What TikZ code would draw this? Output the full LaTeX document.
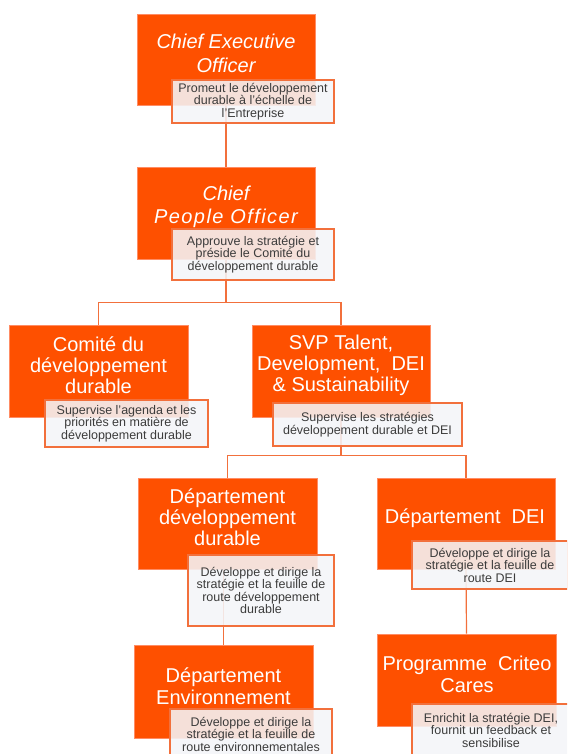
\documentclass[tikz,border=0pt]{standalone}
\usepackage{fontspec}
\setmainfont{Liberation Sans}
\usetikzlibrary{backgrounds}
\definecolor{corange}{RGB}{254,80,0}
\definecolor{cline}{RGB}{242,112,60}
\definecolor{csubfill}{RGB}{244,245,248}
\definecolor{csubtext}{RGB}{60,60,60}
\definecolor{cedge}{RGB}{255,140,100}
\begin{document}
\begin{tikzpicture}[x=1pt,y=-1pt,
 mainbox/.style={fill=corange,draw=cedge,line width=0.6pt,inner sep=0pt,minimum width=178pt,minimum height=92pt},
 title/.style={text=white,align=center,font=\fontsize{20}{22}\selectfont,inner sep=0pt},
 ititle/.style={title,font=\itshape\fontsize{20}{23}\selectfont},
 subbox/.style={fill=csubfill,fill opacity=0.88,text opacity=1,draw=cline,line width=1.2pt,inner sep=0pt,text=csubtext,align=center,font=\fontsize{12.5}{12.5}\selectfont},
 conn/.style={draw=cline,line width=1.2pt}]
\path[use as bounding box] (0,0) rectangle (567,754);
\clip (0,0) rectangle (567,754);

% CEO
\node[mainbox,minimum height=91pt] (ceo) at (226,59.5) {};
\node[ititle,font=\itshape\fontsize{20}{24}\selectfont] (ceot) at (226,53.5) {Chief Executive\\Officer};
\node[subbox,minimum width=162pt,minimum height=43pt] (ceos) at (253,101.5) {Promeut le développement\\durable à l’échelle de\\l’Entreprise};

% CPO
\node[mainbox] (cpo) at (226,213) {};
\node[ititle] (cpot) at (226,207) {Chief\\{\addfontfeature{LetterSpace=7}People Officer}};
\node[subbox,minimum width=162pt,minimum height=51pt] (cpos) at (253,254.5) {Approuve la stratégie et\\préside le Comité du\\développement durable};

% Comite
\node[mainbox,minimum width=179pt] (comite) at (98.5,371) {};
\node[title,font=\fontsize{20}{21}\selectfont] (comitet) at (98.5,365) {Comité du\\développement\\durable};
\node[subbox,minimum width=163pt,minimum height=47pt] (comites) at (126.5,423.5) {Supervise l’agenda et les\\priorités en matière de\\développement durable};

% SVP
\node[mainbox] (svp) at (341,371) {};
\node[title,font=\fontsize{20}{21}\selectfont] (svpt) at (341,365) {SVP Talent,\\Development,~ DEI\\\& Sustainability};
\node[subbox,minimum width=189pt,minimum height=43pt] (svps) at (367.5,424.5) {Supervise les stratégies\\développement durable et DEI};

% Departement developpement durable
\node[mainbox,minimum width=179pt,minimum height=91pt] (ddd) at (227.5,523.5) {};
\node[title,font=\fontsize{20}{21}\selectfont] (dddt) at (227.5,517.5) {Département\\développement\\durable};
\node[subbox,minimum width=146pt,minimum height=71pt] (ddds) at (261,590.5) {Développe et dirige la\\stratégie et la feuille de\\route développement\\durable};

% Departement DEI
\node[mainbox,minimum height=91pt] (dei) at (466,523.5) {};
\node[title] (deit) at (465,518) {Département~ DEI};
\node[subbox,minimum width=156pt,minimum height=48pt] (deis) at (490,565) {Développe et dirige la\\stratégie et la feuille de\\route DEI};

% Departement Environnement
\node[mainbox,minimum width=179pt,minimum height=93pt] (env) at (223.5,691.5) {};
\node[title] (envt) at (223.5,686) {Département\\Environnement};
\node[subbox,minimum width=162pt,minimum height=50pt] (envs) at (251,734) {Développe et dirige la\\stratégie et la feuille de\\route environnementales};

% Programme Criteo Cares
\node[mainbox,minimum width=179pt] (prog) at (466.5,680) {};
\node[title] (progt) at (467,674) {Programme~ Criteo\\Cares};
\node[subbox,minimum width=158pt,minimum height=52pt] (progs) at (491,730) {Enrichit la stratégie DEI,\\fournit un feedback et\\sensibilise};

\begin{scope}[on background layer]
\draw[conn] (ceo.south) -- (cpo.north);
\draw[conn] (cpo.south) -- ++(0,43) coordinate (j1);
\draw[conn] (comite.north) |- (j1) -| (svp.north);
\draw[conn] (svp.south) -- ++(0,38) coordinate (j2);
\draw[conn] (ddd.north) |- (j2) -| (dei.north);
\draw[conn] (env.north) -- (env.north |- ddd.south);
\draw[conn] (dei.south) -- (prog.north);
\end{scope}
\end{tikzpicture}
\end{document}
